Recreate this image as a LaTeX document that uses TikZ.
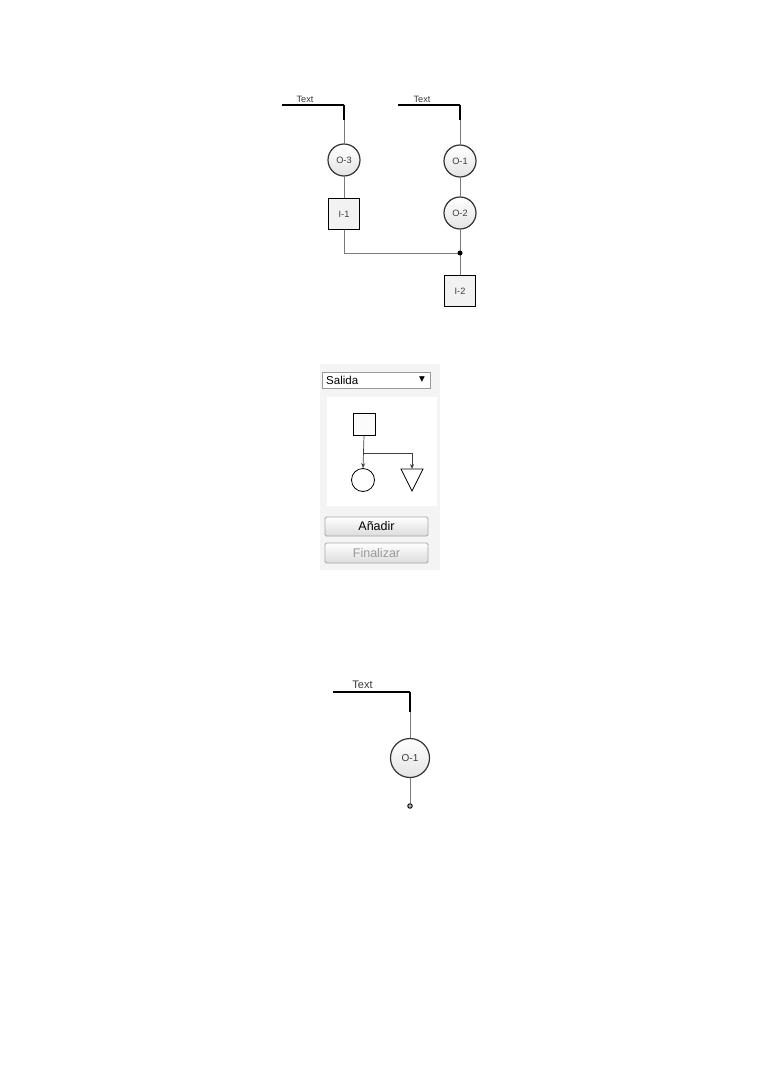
\documentclass[tikz,border=0pt]{standalone}
\usepackage{fontspec}
\setmainfont{Liberation Sans}
\newfontfamily\symfont{DejaVu Sans}
\usetikzlibrary{arrows.meta}
\definecolor{circborder}{HTML}{333333}
\definecolor{circfill}{HTML}{E4E4E4}
\definecolor{sqfill}{HTML}{F2F2F2}
\definecolor{conngray}{HTML}{7A7A7A}
\definecolor{panelbg}{HTML}{F4F4F4}
\definecolor{btnborder}{HTML}{A8A8A8}
\definecolor{btnbottom}{HTML}{DCDCDC}
\definecolor{textgray}{HTML}{3A3A3A}
\tikzset{
  ocirc/.style={circle, minimum size=32pt, inner sep=0pt, draw=circborder, line width=1.2pt,
    top color=white, bottom color=circfill, text=textgray, font=\fontsize{9.2}{10}\selectfont},
  bigcirc/.style={ocirc, minimum size=39pt, font=\fontsize{10}{11}\selectfont},
  isq/.style={rectangle, minimum size=31pt, inner sep=0pt, draw=black, line width=1.3pt,
    fill=sqfill, text=textgray, font=\fontsize{9.2}{10}\selectfont},
  conn/.style={draw=conngray, line width=1pt},
  leadline/.style={draw=black, line width=1.1pt},
  stub/.style={draw=black, line width=2.2pt},
  smalltext/.style={font=\fontsize{9.2}{10}\selectfont, text=textgray, inner sep=0pt},
  arr/.style={draw=black!75, line width=0.7pt, -{Stealth[length=5pt,width=4pt,fill=gray]}},
  btn/.style={rectangle, rounded corners=1.5pt, draw=btnborder, line width=0.8pt,
    top color=white, bottom color=btnbottom, minimum width=103pt, inner sep=0pt,
    font=\fontsize{12.5}{13}\selectfont}
}
\begin{document}
\begin{tikzpicture}[x=1pt,y=-1pt]
\useasboundingbox (0,0) rectangle (760,1075);
\fill[white] (0,0) rectangle (760,1075);

% ---------- top diagram ----------
\node[ocirc] (o3) at (344,160) {O-3};
\node[isq] (i1) at (344,214) {I-1};
\node[ocirc] (o1) at (460,161) {O-1};
\node[ocirc] (o2) at (460,213) {O-2};
\node[isq] (i2) at (460,291) {I-2};
\coordinate (j) at (460,253);

\coordinate (la0) at (282,105);
\coordinate (la1) at (344,105);
\coordinate (la2) at (344,120);
\coordinate (lb0) at (398,105);
\coordinate (lb1) at (460,105);
\coordinate (lb2) at (460,120);
\node[smalltext] (ta) at (305,99.5) {Text};
\node[smalltext] (tb) at (422,99.5) {Text};

\draw[leadline] (la0) -- (la1);
\draw[stub] (la1) -- (la2);
\draw[conn] (la2) -- (o3);
\draw[leadline] (lb0) -- (lb1);
\draw[stub] (lb1) -- (lb2);
\draw[conn] (lb2) -- (o1);

\draw[conn] (o3) -- (i1);
\draw[conn] (o1) -- (o2);
\draw[conn] (o2) -- (j);
\draw[conn] (i1.south) |- (j);
\draw[conn] (j) -- (i2);
\fill[black] (j) circle (2.5pt);

% ---------- middle panel ----------
\fill[panelbg] (320,364) rectangle (440,570);
\node[rectangle, draw=gray!80, fill=white, line width=0.8pt, minimum width=108pt, minimum height=16pt, inner sep=0pt] (dd) at (376,380) {};
\node[anchor=west, inner sep=0pt, font=\fontsize{11.5}{12}\selectfont] (ddtext) at (326,380.5) {Salida};
\node[inner sep=0pt, font=\symfont\fontsize{7.5}{8}\selectfont] (ddarrow) at (422,379.5) {▼};
\fill[white] (327,397) rectangle (437,506);

\node[rectangle, draw=black, line width=1pt, fill=white!97!gray, minimum size=22pt, inner sep=0pt] (sq) at (364,424) {};
\node[circle, draw=black, line width=0.8pt, minimum size=23pt, inner sep=0pt] (cc) at (363,480) {};
\coordinate (tt) at (412,469);
\coordinate (tl) at (401,469);
\coordinate (tr) at (423,469);
\coordinate (ta2) at (412,491);
\draw[black, line width=0.8pt, line join=miter] (tl) -- (tr) -- (ta2) -- cycle;
\coordinate (br) at (364,453);
\draw[arr] (sq.south) -- (cc.north);
\draw[arr] (br) -| (tt);

\node[btn, minimum height=19pt] (add) at (376.5,526.5) {Añadir};
\node[btn, minimum height=20pt, text=gray!80] (fin) at (376.5,553) {Finalizar};

% ---------- bottom diagram ----------
\node[bigcirc] (ob) at (410,758) {O-1};
\coordinate (lc0) at (333,692);
\coordinate (lc1) at (410,692);
\coordinate (lc2) at (410,712);
\node[smalltext, font=\fontsize{11}{12}\selectfont] (tc) at (362.5,684.5) {Text};
\draw[leadline] (lc0) -- (lc1);
\draw[stub] (lc1) -- (lc2);
\draw[conn] (lc2) -- (ob);
\node[circle, draw=black, fill=gray!60, line width=0.9pt, minimum size=4.5pt, inner sep=0pt] (endpt) at (410,806) {};
\draw[conn] (ob) -- (endpt);
\end{tikzpicture}
\end{document}
